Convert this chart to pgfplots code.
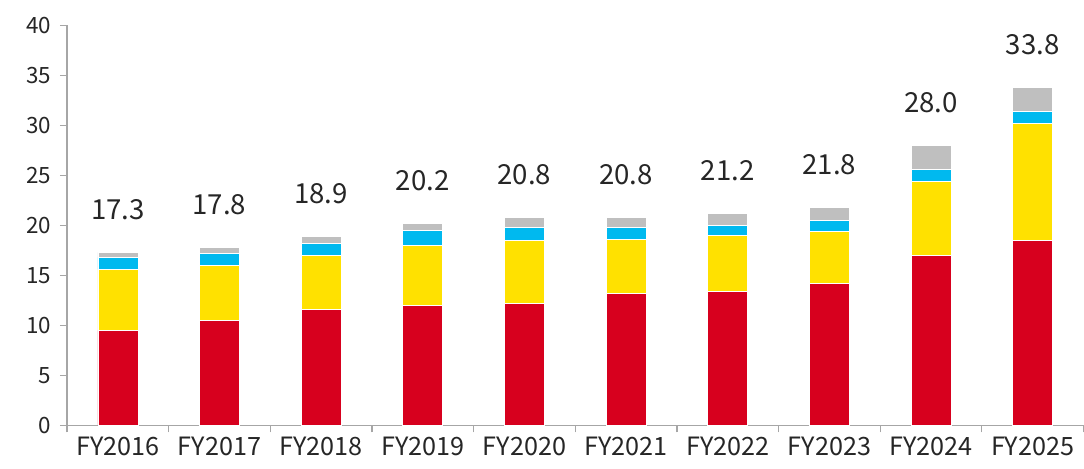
\documentclass[border=0pt]{standalone}
\usepackage{pgfplots}
\usepackage{pgfplotstable}
\usepackage{fontspec}
\setmainfont{Noto Sans CJK JP}
\pgfplotsset{compat=1.18}
\definecolor{cred}{HTML}{D7001E}
\definecolor{cyel}{HTML}{FFE100}
\definecolor{ccya}{HTML}{00B9EF}
\definecolor{cgry}{HTML}{BFBFBF}
\definecolor{caxis}{HTML}{A6A6A6}
\pgfplotstableread{
x red yellow cyan gray total
0 9.5 6.1 1.2 0.5 17.3
1 10.5 5.5 1.2 0.6 17.8
2 11.6 5.4 1.2 0.7 18.9
3 12.0 6.0 1.5 0.7 20.2
4 12.2 6.3 1.3 1.0 20.8
5 13.2 5.4 1.2 1.0 20.8
6 13.4 5.6 1.0 1.2 21.2
7 14.2 5.2 1.1 1.3 21.8
8 17.0 7.4 1.2 2.4 28.0
9 18.5 11.7 1.2 2.4 33.8
}\data
\begin{document}
\begin{tikzpicture}
\useasboundingbox (0,0) rectangle (542pt,234pt);
\begin{axis}[
  at={(33.5pt,21.35pt)}, anchor=south west,
  scale only axis, width=508.25pt, height=200pt,
  ybar stacked, bar width=20pt,
  xmin=-0.5, xmax=9.5, ymin=0, ymax=40,
  ytick={0,5,...,40},
  xtick={-0.5,0.5,...,9.5},
  xticklabels={},
  extra x ticks={0,...,9},
  extra x tick labels={FY2016,FY2017,FY2018,FY2019,FY2020,FY2021,FY2022,FY2023,FY2024,FY2025},
  extra x tick style={major tick length=0pt, xticklabel style={yshift=-2.5pt, font=\fontsize{12.6}{14}\selectfont}},
  axis x line*=bottom, axis y line*=left,
  axis line style={caxis, line width=0.6pt},
  every tick/.style={caxis, line width=0.6pt},
  tick align=outside,
  major tick length=3.5pt,
  tick label style={font=\fontsize{11.2}{12}\selectfont, text=black!85},
  /pgf/number format/assume math mode=true,
  yticklabel style={xshift=-1pt},
  every axis plot/.append style={draw=white, line width=0.3pt},
]
\addplot[fill=cred] table[x=x,y=red]{\data};
\addplot[fill=cyel] table[x=x,y=yellow]{\data};
\addplot[fill=ccya] table[x=x,y=cyan]{\data};
\addplot[fill=cgry,
  visualization depends on={\thisrow{gray} \as \grayv},
  point meta=explicit,
  nodes near coords={\pgfmathprintnumber[fixed,fixed zerofill,precision=1]{\pgfplotspointmeta}},
  nodes near coords style={anchor=base, yshift={16.5pt+\grayv*2.5pt}, font=\fontsize{13.8}{15}\selectfont, text=black!85}
] table[x=x,y=gray,meta=total]{\data};
\end{axis}
\end{tikzpicture}
\end{document}
